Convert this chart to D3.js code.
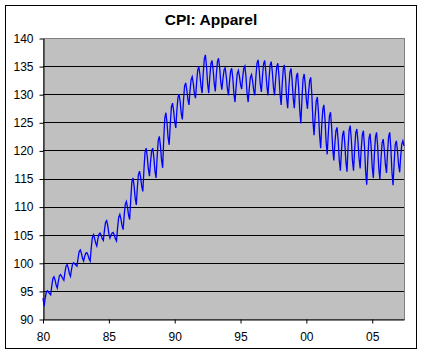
<!DOCTYPE html>
<html>
<head>
<meta charset="utf-8">
<script src="https://cdn.jsdelivr.net/npm/d3@7"></script>
<style>
body { margin: 0; background: #fff; }
svg { display: block; font-family: Arial, "Liberation Sans", sans-serif; }
</style>
</head>
<body>
<svg id="chart" width="423" height="355"></svg>
<script>
'use strict';

var title = "CPI: Apparel";
var startYear = 1980;

// monthly index, Jan 1980 .. Jun 2007 (one row per year)
var cpiApparel = [
    93.7, 92.3, 93.7, 94.7, 95.0, 94.8, 94.5, 94.3, 95.9, 97.2, 97.5, 96.9,
    96.0, 95.5, 96.7, 97.7, 97.9, 97.6, 97.2, 96.9, 98.3, 99.4, 99.7, 99.1,
    98.1, 97.6, 98.8, 99.8, 100.0, 99.8, 99.6, 99.4, 100.9, 102.0, 102.3, 101.7,
    100.8, 100.3, 101.1, 101.7, 101.8, 101.4, 100.7, 100.3, 102.7, 104.5, 105.0, 104.4,
    103.5, 103.0, 104.2, 105.1, 105.3, 104.9, 104.3, 104.0, 105.8, 107.2, 107.5, 106.6,
    105.2, 104.4, 104.9, 105.3, 105.4, 104.9, 104.3, 103.9, 106.3, 108.1, 108.6, 107.8,
    106.6, 105.9, 108.4, 110.4, 110.9, 109.9, 108.5, 107.7, 111.4, 114.4, 115.1, 113.7,
    111.5, 110.3, 113.3, 115.7, 116.3, 115.2, 113.6, 112.7, 116.6, 119.7, 120.4, 118.9,
    116.7, 115.4, 117.9, 119.9, 120.4, 118.8, 116.4, 115.1, 118.8, 121.8, 122.5, 120.8,
    118.3, 116.9, 121.8, 125.7, 126.7, 125.0, 122.3, 121.0, 124.7, 127.7, 128.4, 127.1,
    125.1, 124.0, 127.0, 129.4, 130.0, 128.7, 126.6, 125.5, 128.8, 131.4, 132.0, 130.8,
    129.1, 128.1, 130.6, 132.6, 133.1, 131.9, 130.1, 129.3, 132.1, 134.3, 134.9, 133.5,
    131.4, 130.2, 133.6, 136.3, 137.0, 135.0, 131.9, 130.2, 133.1, 135.4, 136.0, 134.4,
    131.9, 130.5, 133.5, 135.8, 136.4, 134.7, 132.2, 130.8, 132.8, 134.3, 134.7, 133.2,
    131.0, 129.8, 132.2, 134.1, 134.6, 132.8, 130.1, 128.6, 131.4, 133.6, 134.2, 133.2,
    131.7, 130.9, 133.0, 134.6, 135.0, 133.1, 130.2, 128.6, 131.1, 133.0, 133.5, 132.4,
    130.7, 129.8, 133.0, 135.5, 136.1, 134.4, 131.8, 130.4, 133.2, 135.4, 136.0, 134.1,
    131.4, 129.8, 132.8, 135.2, 135.8, 134.0, 131.3, 129.8, 132.7, 134.9, 135.5, 133.3,
    130.0, 128.1, 131.7, 134.5, 135.2, 132.9, 129.4, 127.5, 131.1, 133.9, 134.6, 132.5,
    129.3, 127.5, 130.7, 133.2, 133.8, 131.1, 127.1, 124.8, 129.2, 132.7, 133.6, 131.7,
    129.0, 127.4, 130.2, 132.4, 133.0, 129.9, 125.3, 122.7, 126.1, 128.8, 129.5, 126.8,
    122.7, 120.4, 124.3, 127.3, 128.1, 125.5, 121.6, 119.3, 123.1, 126.1, 126.8, 124.2,
    120.3, 118.2, 121.2, 123.5, 124.1, 121.8, 118.3, 116.4, 120.0, 122.7, 123.5, 121.3,
    118.0, 116.2, 120.3, 123.6, 124.4, 121.9, 118.3, 116.4, 120.1, 123.1, 123.8, 121.7,
    118.6, 116.8, 120.2, 122.8, 123.5, 120.6, 116.3, 113.9, 118.5, 122.1, 123.0, 120.6,
    117.0, 115.1, 119.2, 122.4, 123.2, 120.7, 116.9, 114.9, 118.5, 121.3, 122.0, 120.2,
    117.5, 116.0, 119.6, 122.5, 123.2, 120.4, 116.2, 113.8, 117.8, 121.0, 121.7, 120.0,
    117.5, 116.1, 118.9, 121.1, 121.7, 120.8
];

var yTicks = [90, 95, 100, 105, 110, 115, 120, 125, 130, 135, 140];
var xTickYears = [1980, 1985, 1990, 1995, 2000, 2005];

(function() {
    var svg = d3.select("#chart"),
        plotLeft = 43, plotRight = 404, plotTop = 38, plotBottom = 319;

    function monthDate(i) { return new Date(startYear, i, 1); }

    var x = d3.scaleTime()
            .domain([monthDate(0), monthDate(cpiApparel.length - 1)])
            .range([plotLeft, plotRight]),
        y = d3.scaleLinear().domain([90, 140]).range([plotBottom, plotTop]);

    // chart area border
    svg.append("rect")
        .attr("x", 5.5).attr("y", 5.5)
        .attr("width", 411).attr("height", 343)
        .attr("fill", "#fff").attr("stroke", "#000");

    // plot area
    svg.append("rect")
        .attr("x", plotLeft + 0.5).attr("y", plotTop + 0.5)
        .attr("width", plotRight - plotLeft).attr("height", plotBottom - plotTop)
        .attr("fill", "#c0c0c0").attr("stroke", "#808080");

    // gridlines
    svg.append("g").selectAll("line")
        .data(yTicks.filter(function(d){ return d > 90 && d < 140; }))
        .enter().append("line")
        .attr("x1", plotLeft).attr("x2", plotRight)
        .attr("y1", function(d){ return Math.round(y(d)) + 0.5; })
        .attr("y2", function(d){ return Math.round(y(d)) + 0.5; })
        .attr("stroke", "#000").attr("stroke-width", 1);

    // y axis
    var yAxis = svg.append("g")
        .attr("transform", "translate(" + (plotLeft + 0.5) + ",0.5)")
        .call(d3.axisLeft(y).tickValues(yTicks).tickSize(4).tickPadding(6).tickSizeOuter(0));

    // x axis
    var xAxis = svg.append("g")
        .attr("transform", "translate(0," + (plotBottom + 0.5) + ")")
        .call(d3.axisBottom(x)
            .tickValues(xTickYears.map(function(yr){ return new Date(yr, 0, 1); }))
            .tickFormat(d3.timeFormat("%y"))
            .tickSize(4).tickPadding(9).tickSizeOuter(0));

    [yAxis, xAxis].forEach(function(ax){
        ax.select(".domain").attr("stroke", "#000");
        ax.selectAll(".tick line").attr("stroke", "#000");
        ax.selectAll("text")
            .attr("fill", "#000")
            .style("font-family", "Arial, 'Liberation Sans', sans-serif")
            .style("font-size", "12px");
    });

    // the series
    var line = d3.line()
        .x(function(d, i){ return x(monthDate(i)); })
        .y(function(d){ return y(d); });

    svg.append("path")
        .datum(cpiApparel)
        .attr("d", line)
        .attr("fill", "none")
        .attr("stroke", "#0000ff")
        .attr("stroke-width", 1.3);

    // title
    svg.append("text")
        .attr("x", 211).attr("y", 25)
        .attr("text-anchor", "middle")
        .style("font-size", "15.5px")
        .style("font-weight", "bold")
        .text(title);
})();
</script>
</body>
</html>
